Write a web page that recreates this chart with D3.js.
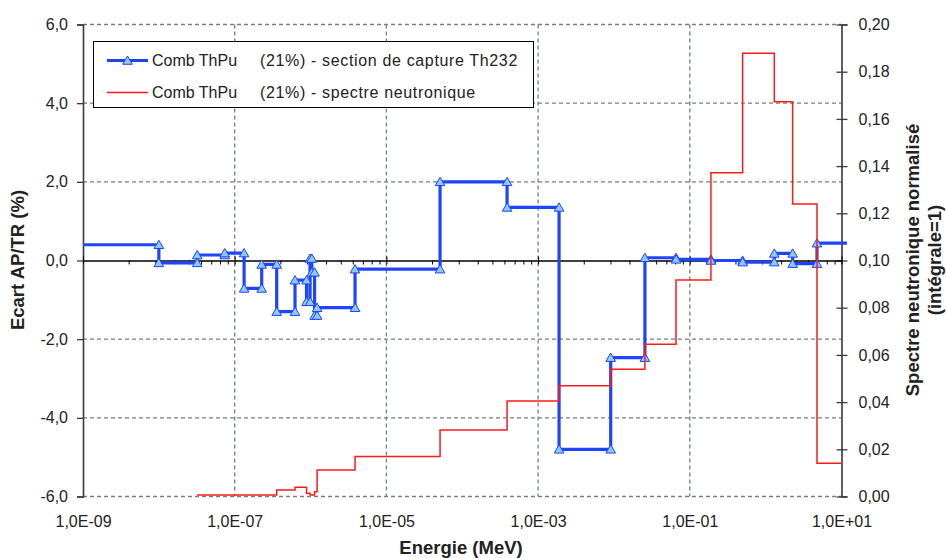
<!DOCTYPE html>
<html><head><meta charset="utf-8">
<script src="https://cdn.jsdelivr.net/npm/d3@7/dist/d3.min.js"></script>
<style>
body{margin:0;background:#fff;}
svg{display:block;font-family:"Liberation Sans",Arial,sans-serif;}
</style></head>
<body><svg id="c" width="946" height="558"></svg>
<script>
// Blue series: step boundaries (MeV) and value on each interval (%)
const blueEdges = [1e-9, 1.0e-8, 3.2e-8, 7.4e-8, 1.33e-7, 2.27e-7, 3.58e-7, 6.24e-7, 8.85e-7, 9.85e-7, 1.04e-6, 1.13e-6, 1.22e-6, 3.86e-6, 5.1e-5, 3.9e-4, 1.89e-3, 9.06e-3, 2.56e-2, 6.58e-2, 0.19, 0.497, 1.30, 2.27, 4.75, 11.8];
const blueValues = [0.4, -0.06, 0.14, 0.19, -0.71, -0.1, -1.3, -0.5, -1.05, 0.05, -0.3, -1.4, -1.2, -0.22, 2.0, 1.35, -4.8, -2.47, 0.07, 0.03, 0.0, -0.04, 0.18, -0.08, 0.44];
// Red series: step boundaries (MeV) and normalised spectrum on each interval
const redEdges = [3.2e-8, 3.58e-7, 6.24e-7, 8.85e-7, 9.85e-7, 1.13e-6, 1.22e-6, 3.86e-6, 5.1e-5, 3.9e-4, 1.89e-3, 9.06e-3, 2.56e-2, 6.58e-2, 0.19, 0.497, 1.30, 2.27, 4.75, 10];
const redValues = [0.0006, 0.0028, 0.0039, 0.0014, 0.0006, 0.0020, 0.0112, 0.0169, 0.0282, 0.0405, 0.0469, 0.0539, 0.0645, 0.0917, 0.1372, 0.1878, 0.1673, 0.1239, 0.0141];
const xMajorTicks = [1e-9, 1e-7, 1e-5, 1e-3, 1e-1, 10];
const yLeftTicks = [-6, -4, -2, 0, 2, 4, 6];
const yRightTicks = [0, 0.02, 0.04, 0.06, 0.08, 0.10, 0.12, 0.14, 0.16, 0.18, 0.20];
const legendLabels = ["Comb ThPu", "(21%) - section de capture Th232", "(21%) - spectre neutronique"];

const svg = d3.select("#c");
const L = 83, R = 841.5, T = 24.5, B = 496.5;
const x = d3.scaleLog().domain([1e-9, 10]).range([L, R]);
const y = d3.scaleLinear().domain([-6, 6]).range([B, T]);
const y2 = d3.scaleLinear().domain([0, 0.2]).range([B, T]);
const gridCol = "#6f8282", axisCol = "#3a3a3a", txt = "#222";
const commaFmt = f => d => d3.format(f)(d).replace(".", ",").replace("−", "-");
const expFmt = d => { const e = Math.round(Math.log10(d)); return "1,0E" + (e < 0 ? "-" : "+") + String(Math.abs(e)).padStart(2, "0"); };

// gridlines
svg.append("g").selectAll("line").data(yLeftTicks.filter(d => d !== 0)).join("line")
  .attr("x1", L).attr("x2", R).attr("y1", d => y(d)).attr("y2", d => y(d))
  .attr("stroke", gridCol).attr("stroke-width", 1.3).attr("stroke-dasharray", "4,3");
svg.append("g").selectAll("line").data(xMajorTicks.slice(1, -1)).join("line")
  .attr("x1", d => x(d)).attr("x2", d => x(d)).attr("y1", T).attr("y2", B)
  .attr("stroke", gridCol).attr("stroke-width", 1.3).attr("stroke-dasharray", "4,3");

// left axis
const gl = svg.append("g").attr("transform", `translate(${L},0)`)
  .call(d3.axisLeft(y).tickValues(yLeftTicks).tickFormat(commaFmt(".1f")).tickSize(6).tickPadding(9));
// right axis
const gr = svg.append("g").attr("transform", `translate(${R},0)`)
  .call(d3.axisRight(y2).tickValues(yRightTicks).tickFormat(commaFmt(".2f")).tickSize(6).tickPadding(11));
gr.selectAll(".tick line").attr("x1", -5);
// bottom labels
const gb = svg.append("g").attr("transform", `translate(0,${B})`)
  .call(d3.axisBottom(x).tickValues(xMajorTicks).tickFormat(expFmt).tickSize(0).tickPadding(19));
gb.select(".domain").remove();
// zero axis with log minor ticks (k^2 multiples between majors)
const minor = [];
xMajorTicks.slice(0, -1).forEach(m => { for (let k = 2; k <= 9; k++) minor.push(m * k * k); });
const gz = svg.append("g").attr("transform", `translate(0,${y(0)})`);
gz.call(d3.axisBottom(x).tickValues(minor).tickFormat("").tickSize(4).tickSizeOuter(0));
gz.append("g").call(d3.axisBottom(x).tickValues(xMajorTicks).tickFormat("").tickSize(4).tickSizeOuter(0))
  .selectAll(".tick line").attr("y1", -4);
gz.selectAll(".domain").attr("stroke", "#000").attr("stroke-width", 1.2);
gz.selectAll(".tick line").attr("stroke", "#000");

[gl, gr].forEach(g => {
  g.select(".domain").attr("stroke", axisCol).attr("stroke-width", 1.6);
  g.selectAll(".tick line").attr("stroke", axisCol).attr("stroke-width", 1.3);
});
[gl, gr, gb].forEach(g => g.selectAll("text").attr("font-size", 16).attr("fill", txt).attr("font-family", "Liberation Sans, Arial, sans-serif"));

// blue step line
const bluePts = blueValues.map((v, i) => [blueEdges[i], v]).concat([[blueEdges[blueEdges.length - 1], blueValues[blueValues.length - 1]]]);
const blueCol = "#1f44ff";
svg.append("path").datum(bluePts)
  .attr("d", d3.line().x(d => x(d[0])).y(d => y(d[1])).curve(d3.curveStepAfter))
  .attr("fill", "none").attr("stroke", blueCol).attr("stroke-width", 3.2);
// markers at both sides of every interior step
const marks = [];
for (let i = 1; i < blueValues.length; i++) {
  marks.push([blueEdges[i], blueValues[i - 1]], [blueEdges[i], blueValues[i]]);
}
const tri = d3.symbol().type(d3.symbolTriangle).size(40);
svg.append("g").selectAll("path").data(marks).join("path")
  .attr("transform", d => `translate(${x(d[0])},${y(d[1]) + 1})`).attr("d", tri)
  .attr("fill", "#8fcaff").attr("stroke", blueCol).attr("stroke-width", 1);

// red step line
const redPts = redValues.map((v, i) => [redEdges[i], v]).concat([[redEdges[redEdges.length - 1], redValues[redValues.length - 1]]]);
svg.append("path").datum(redPts)
  .attr("d", d3.line().x(d => x(d[0])).y(d => y2(d[1])).curve(d3.curveStepAfter))
  .attr("fill", "none").attr("stroke", "#ff1a1a").attr("stroke-width", 1.5);

// legend
const lg = svg.append("g");
lg.append("rect").attr("x", 93.5).attr("y", 41.5).attr("width", 440).attr("height", 66)
  .attr("fill", "#fff").attr("stroke", "#000").attr("stroke-width", 1);
const ly = [60.5, 92.5];
lg.append("line").attr("x1", 107).attr("x2", 148).attr("y1", ly[0]).attr("y2", ly[0]).attr("stroke", blueCol).attr("stroke-width", 3.2);
lg.append("path").attr("transform", `translate(127.5,${ly[0] + 1})`).attr("d", tri).attr("fill", "#8fcaff").attr("stroke", blueCol);
lg.append("line").attr("x1", 107).attr("x2", 148).attr("y1", ly[1]).attr("y2", ly[1]).attr("stroke", "#ff1a1a").attr("stroke-width", 1.5);
[0, 1].forEach(i => {
  lg.append("text").attr("x", 152).attr("y", ly[i] + 5.5).attr("font-size", 16).attr("fill", txt).text(legendLabels[0]);
  lg.append("text").attr("x", 260).attr("y", ly[i] + 5.5).attr("font-size", 16).attr("letter-spacing", 0.65).attr("fill", txt).text(legendLabels[i + 1]);
});

// axis titles
const tfs = 18.5;
svg.append("text").attr("transform", "translate(24,260) rotate(-90)").attr("text-anchor", "middle")
  .attr("font-size", tfs).attr("font-weight", "bold").attr("fill", txt).text("Ecart AP/TR (%)");
svg.append("text").attr("x", 461).attr("y", 554).attr("text-anchor", "middle")
  .attr("font-size", tfs).attr("font-weight", "bold").attr("fill", txt).text("Energie (MeV)");
svg.append("text").attr("transform", "translate(919,260) rotate(-90)").attr("text-anchor", "middle")
  .attr("font-size", tfs).attr("font-weight", "bold").attr("fill", txt).text("Spectre neutronique normalisé");
svg.append("text").attr("transform", "translate(941,260) rotate(-90)").attr("text-anchor", "middle")
  .attr("font-size", tfs).attr("font-weight", "bold").attr("fill", txt).text("(intégrale=1)");
</script></body></html>
